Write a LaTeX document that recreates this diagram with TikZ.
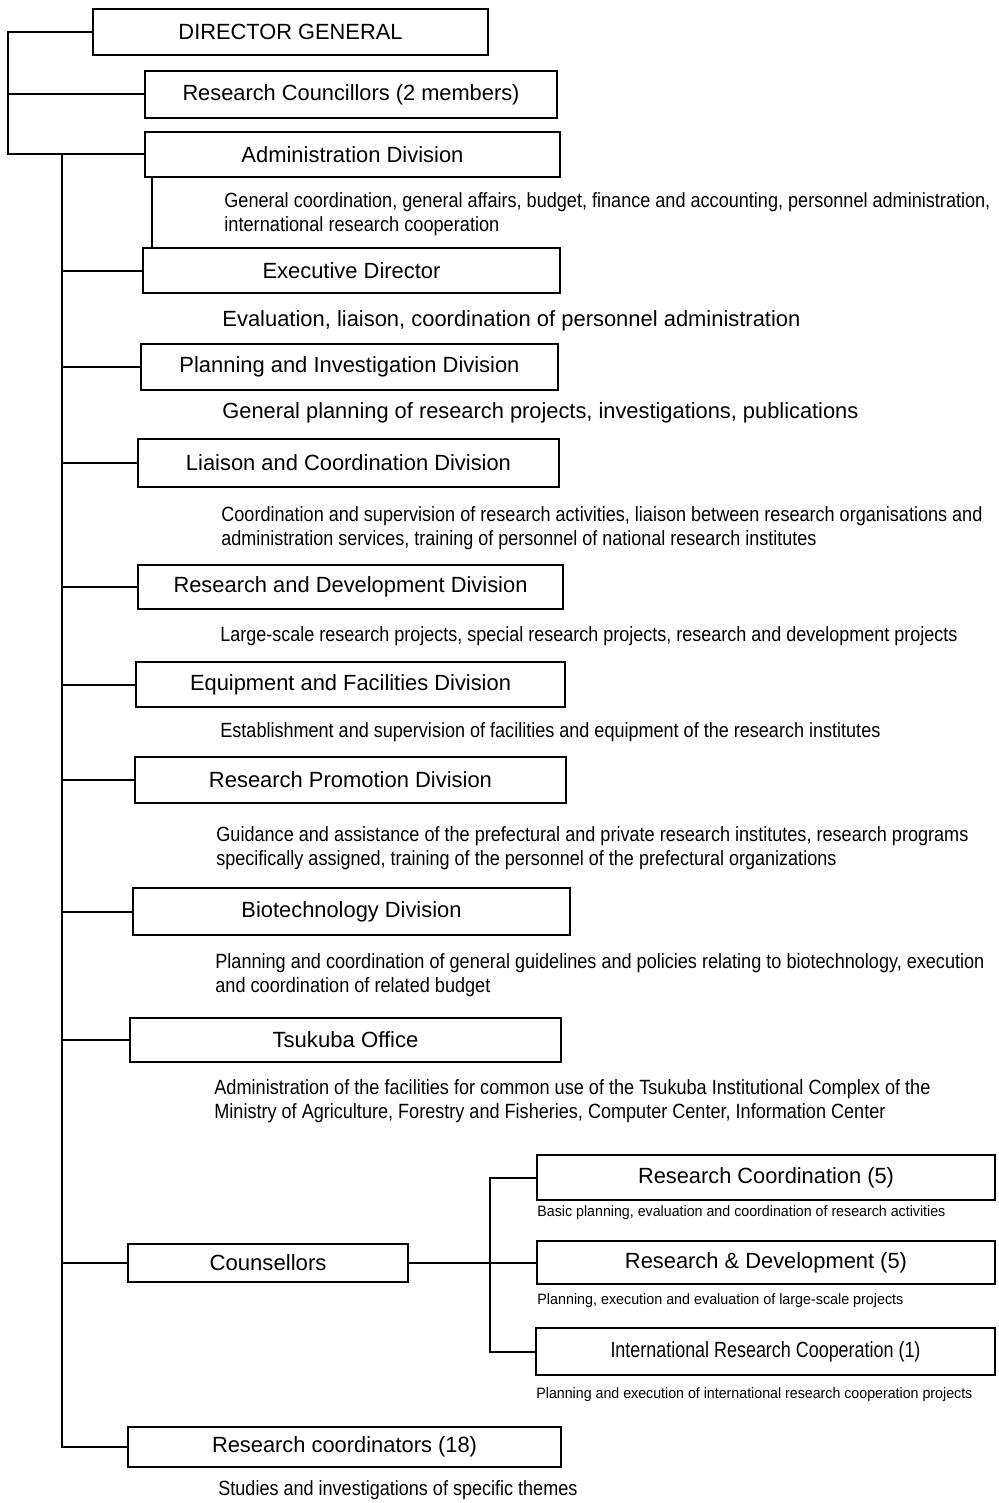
\documentclass[tikz,border=0pt]{standalone}
\usepackage{fontspec}
\setmainfont{Liberation Sans}
\usepackage{graphicx}
\newlength\pxu
\setlength\pxu{0.5pt}
\newcommand\W[2]{\resizebox{#1\pxu}{\height}{#2}}
\begin{document}
\begin{tikzpicture}[x=0.5pt,y=-0.5pt,
  box/.style={draw,line width=1pt,inner sep=0pt,font=\fontsize{11}{13}\selectfont},
  sz/.style 2 args={minimum width=#1*0.5pt,minimum height=#2*0.5pt},
  desc/.style={anchor=west,inner sep=0pt,align=left,font=\fontsize{10.3}{12}\selectfont},
  bigdesc/.style={anchor=west,inner sep=0pt,align=left,font=\fontsize{11}{13}\selectfont},
  smalldesc/.style={anchor=west,inner sep=0pt,align=left,font=\fontsize{7.5}{9}\selectfont},
  conn/.style={line width=1pt}]
\useasboundingbox[fill=white] (0,0) rectangle (999,1503);
% boxes
\node[box,sz={395}{46}] (dg) at (290.5,32) {\W{224}{DIRECTOR GENERAL}};
\node[box,sz={412}{47}] (rc) at (351,94.5) {\W{337}{Research Councillors (2 members)}};
\node[box,sz={415}{45}] (ad) at (352.5,154.5) {\W{222}{Administration Division}};
\node[box,sz={417}{45}] (ed) at (351.5,270.5) {\W{178}{Executive Director}};
\node[box,sz={417}{46}] (pid) at (349.5,367) {\W{340}{Planning and Investigation Division}};
\node[box,sz={421}{48}] (lcd) at (348.5,463) {\W{325}{Liaison and Coordination Division}};
\node[box,sz={425}{44}] (rdd) at (350.5,587) {\W{354}{Research and Development Division}};
\node[box,sz={429}{45}] (efd) at (350.5,684.5) {\W{321}{Equipment and Facilities Division}};
\node[box,sz={431}{46}] (rpd) at (350.5,780) {\W{283}{Research Promotion Division}};
\node[box,sz={437}{47}] (bd) at (351.5,911.5) {\W{220}{Biotechnology Division}};
\node[box,sz={431}{44}] (to) at (345.5,1040) {\W{146}{Tsukuba Office}};
\node[box,sz={280}{38}] (co) at (268,1263) {\W{117}{Counsellors}};
\node[box,sz={458}{45}] (rc5) at (766,1177.5) {\W{256}{Research Coordination (5)}};
\node[box,sz={458}{43}] (rd5) at (766,1262.5) {\W{282}{Research \& Development (5)}};
\node[box,sz={459}{47}] (irc) at (765.5,1351.5) {\W{310}{International Research Cooperation (1)}};
\node[box,sz={433}{40}] (rco) at (344.5,1447) {\W{265}{Research coordinators (18)}};
% descriptions
\node[desc] (adt) at (224,214) {\W{766}{General coordination, general affairs, budget, finance and accounting, personnel administration,}\\
\W{275}{international research cooperation}};
\node[bigdesc] (edt) at (222,321) {\W{578}{Evaluation, liaison, coordination of personnel administration}};
\node[bigdesc] (pidt) at (222,413) {\W{636}{General planning of research projects, investigations, publications}};
\node[desc] (lcdt) at (221,528) {\W{761}{Coordination and supervision of research activities, liaison between research organisations and}\\
\W{595}{administration services, training of personnel of national research institutes}};
\node[desc] (rddt) at (220,636) {\W{737}{Large-scale research projects, special research projects, research and development projects}};
\node[desc] (efdt) at (220,732) {\W{660}{Establishment and supervision of facilities and equipment of the research institutes}};
\node[desc] (rpdt) at (216,848) {\W{752}{Guidance and assistance of the prefectural and private research institutes, research programs}\\
\W{620}{specifically assigned, training of the personnel of the prefectural organizations}};
\node[desc] (bdt) at (215,975) {\W{769}{Planning and coordination of general guidelines and policies relating to biotechnology, execution}\\
\W{275}{and coordination of related budget}};
\node[desc] (tot) at (214,1101) {\W{716}{Administration of the facilities for common use of the Tsukuba Institutional Complex of the}\\
\W{671}{Ministry of Agriculture, Forestry and Fisheries, Computer Center, Information Center}};
\node[smalldesc] (rc5t) at (537,1213) {\W{408}{Basic planning, evaluation and coordination of research activities}};
\node[smalldesc] (rd5t) at (537,1301) {\W{366}{Planning, execution and evaluation of large-scale projects}};
\node[smalldesc] (irct) at (536,1395) {\W{436}{Planning and execution of international research cooperation projects}};
\node[desc] (rcot) at (218,1490) {\W{359}{Studies and investigations of specific themes}};
% connectors
\coordinate (L) at (8,0);
\coordinate (T) at (62,0);
\coordinate (V) at (490,0);
\draw[conn] (dg.west) -| (L |- ad.west) -- (ad.west);
\draw[conn] (rc.west) -- (rc.west -| L);
\draw[conn] (T |- ad.west) -- (T |- rco.west) -- (rco.west);
\foreach \n in {ed,pid,lcd,rdd,efd,rpd,bd,to,co}
  \draw[conn] (\n.west) -- (\n.west -| T);
\draw[conn] ([xshift=4pt]ad.south west) -- ([xshift=4pt]ad.south west |- ed.north);
\draw[conn] (co.east) -- (co.east -| V);
\draw[conn] (rc5.west) -| (V |- irc.west) -- (irc.west);
\draw[conn] (rd5.west) -- (rd5.west -| V);
\end{tikzpicture}
\end{document}
